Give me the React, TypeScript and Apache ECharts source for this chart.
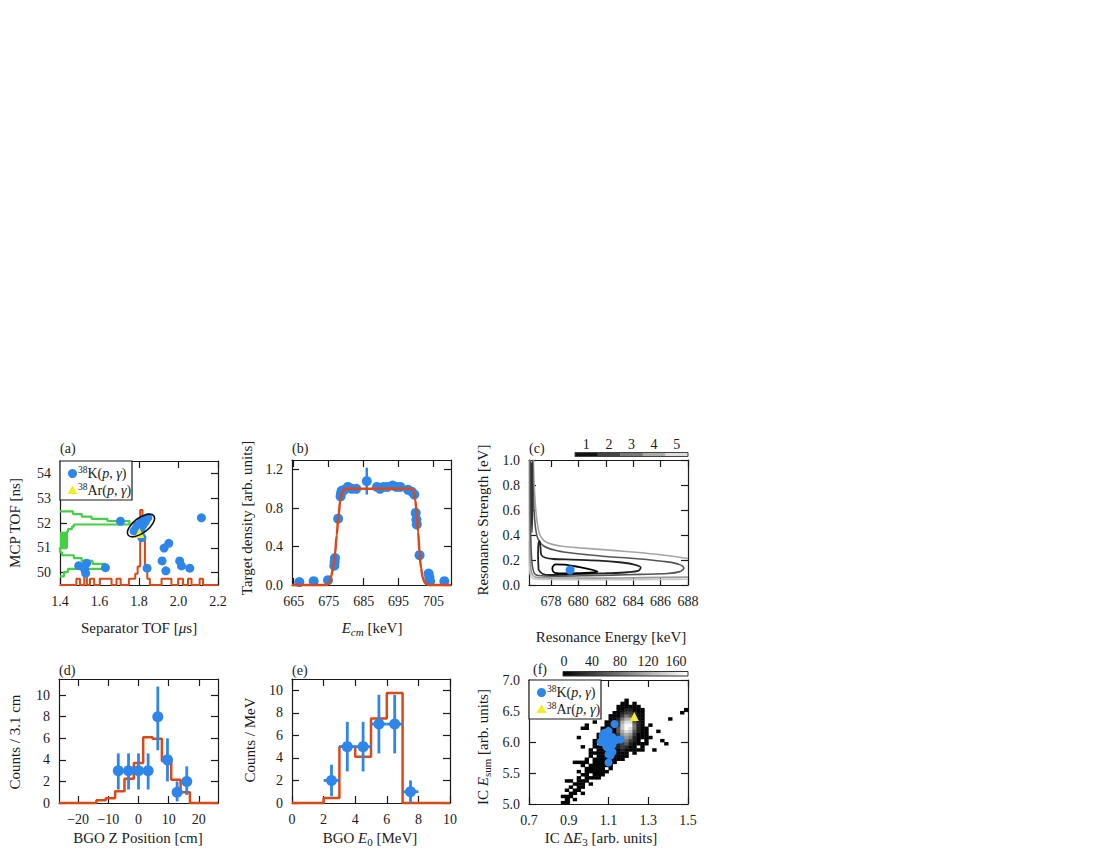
import React, { useEffect, useRef } from "react";
import * as echarts from "echarts";

const FONT = '"Liberation Serif", "Times New Roman", Times, serif';
const INK = "#1a1a1a";
const BLUE = "#2e86ea";
const RED = "#dd4814";
const GREEN = "#44d044";
const YELLOW = "#eeee22";
const TICK_FS = 14;
const TITLE_FS = 15;

// ---------------- panel (a) ----------------
const aSepTof = [1.706, 1.775, 1.785, 1.79, 1.8, 1.805, 1.812, 1.82, 1.825, 1.832, 1.838, 1.845, 1.81, 1.815, 2.116, 1.927, 1.951, 1.917, 1.936, 1.841, 2.006, 2.015, 2.057, 1.495, 1.535, 1.525, 1.53, 1.63];
const aMcpTof = [52.07, 51.68, 51.78, 51.88, 51.8, 51.95, 52.02, 51.92, 52.1, 52.05, 52.18, 52.22, 51.7, 51.41, 52.21, 50.99, 51.18, 50.47, 50.07, 50.18, 50.47, 50.27, 50.18, 50.28, 50.38, 50.12, 49.97, 50.2];
const aArPoint = [1.802, 51.6];
const aRedBase = 49.5;
// [start, end, top] of separator-TOF histogram bins
const aRedBins = [
  [1.483, 1.501, 49.75], [1.523, 1.536, 50.45], [1.552, 1.573, 49.75], [1.602, 1.661, 49.75],
  [1.686, 1.707, 49.75], [1.749, 1.781, 49.75], [1.781, 1.793, 49.95], [1.793, 1.806, 50.25],
  [1.806, 1.818, 52.52], [1.818, 1.83, 51.35], [1.83, 1.842, 50.2], [1.842, 1.855, 49.75],
  [1.914, 1.964, 49.75], [1.998, 2.023, 49.75], [2.048, 2.066, 49.75], [2.107, 2.124, 49.75],
];
const aGreenBase = 1.4;
// [low, high, extent] of MCP-TOF histogram bins
const aGreenBins = [
  [49.85, 50.02, 1.42], [50.02, 50.15, 1.44], [50.15, 50.35, 1.63], [50.35, 50.47, 1.565],
  [50.47, 50.58, 1.51], [50.58, 50.7, 1.47], [50.7, 50.82, 1.41], [50.82, 51.0, 1.4],
  [51.0, 51.65, 1.435], [51.65, 51.75, 1.44], [51.75, 51.85, 1.46], [51.85, 51.94, 1.47],
  [51.94, 52.08, 1.752], [52.08, 52.17, 1.64], [52.17, 52.26, 1.56], [52.26, 52.36, 1.51],
  [52.36, 52.47, 1.466],
];
const aGreenBlock = [51.0, 51.65, 1.435];
const aEllipseCenter = [1.81, 51.9];
const aXTicks = [1.4, 1.6, 1.8, 2.0, 2.2];
const aYTicks = [50, 51, 52, 53, 54];

// ---------------- panel (b) ----------------
const bE = [666.6, 670.7, 674.8, 676.6, 676.7, 676.8, 677.7, 678.4, 678.5, 678.7, 679.5, 680.5, 681.6, 682.9, 685.9, 688.8, 689.7, 690.7, 691.8, 693.3, 694.4, 695.5, 697.7, 698.8, 699.5, 699.9, 700.1, 700.2, 701.0, 703.6, 703.8, 704.0, 708.1];
const bDen = [0.03, 0.04, 0.05, 0.2, 0.24, 0.28, 0.69, 0.92, 0.95, 0.98, 0.99, 1.02, 1.0, 1.0, 1.08, 1.02, 1.0, 1.02, 1.02, 1.035, 1.02, 1.02, 0.99, 0.97, 0.94, 0.75, 0.68, 0.63, 0.31, 0.12, 0.08, 0.04, 0.04];
const bErr = [0.02, 0.02, 0.02, 0.03, 0.03, 0.03, 0.03, 0.02, 0.02, 0.02, 0.02, 0.02, 0.02, 0.02, 0.14, 0.02, 0.02, 0.02, 0.02, 0.02, 0.02, 0.02, 0.02, 0.02, 0.02, 0.03, 0.03, 0.03, 0.03, 0.02, 0.02, 0.02, 0.02];
const bFitE = [664.5, 674.5, 675.3, 675.8, 676.3, 676.8, 677.3, 677.8, 678.3, 678.9, 679.6, 698.6, 699.3, 699.8, 700.2, 700.6, 701.0, 701.4, 701.9, 702.4, 703.0, 703.8, 710];
const bFitD = [0, 0, 0.03, 0.1, 0.2, 0.32, 0.52, 0.72, 0.88, 0.97, 1.0, 1.0, 0.97, 0.88, 0.74, 0.55, 0.33, 0.18, 0.08, 0.03, 0.008, 0, 0];
const bXTicks = [665, 675, 685, 695, 705];
const bYTicks = [0, 0.4, 0.8, 1.2];

// ---------------- panel (c) ----------------
const cLevel1 = [[678.1, 0.14], [678.3, 0.165], [679.0, 0.163], [680.0, 0.145], [681.0, 0.122], [681.4, 0.108], [681.0, 0.1], [680.0, 0.095], [679.0, 0.092], [678.4, 0.094], [678.15, 0.11], [678.1, 0.14]];
const cLevel2 = [[677.1, 0.12], [677.06, 0.25], [677.1, 0.34], [677.18, 0.35], [677.24, 0.3], [677.3, 0.24], [677.6, 0.218], [678.2, 0.208], [679.5, 0.203], [681.5, 0.195], [683.0, 0.182], [684.0, 0.165], [684.55, 0.14], [684.4, 0.115], [683.6, 0.102], [682.0, 0.094], [680.5, 0.089], [679.0, 0.084], [678.0, 0.08], [677.4, 0.088], [677.1, 0.12]];
const cLevel2Wall = [[676.56, 0.98], [676.58, 0.6], [676.62, 0.42], [676.65, 0.6], [676.63, 0.98]];
const cLevel3 = [[676.5, 1.0], [676.5, 0.6], [676.55, 0.3], [676.65, 0.15], [676.85, 0.085], [677.3, 0.074], [678.5, 0.071], [680.5, 0.074], [682.5, 0.079], [684.5, 0.085], [686.5, 0.092], [687.4, 0.107], [687.7, 0.135], [687.4, 0.163], [686.5, 0.185], [684.3, 0.21], [682.0, 0.228], [680.6, 0.243], [679.2, 0.26], [678.3, 0.278], [677.5, 0.31], [677.05, 0.37], [676.85, 0.48], [676.72, 0.7], [676.66, 1.0]];
const cLevel4Low = [[676.44, 1.0], [676.45, 0.5], [676.49, 0.2], [676.6, 0.095], [676.9, 0.062], [678, 0.057], [681, 0.055], [685, 0.059], [688, 0.063]];
const cLevel4High = [[688, 0.212], [685.7, 0.246], [683, 0.273], [680.1, 0.297], [678.8, 0.31], [678.1, 0.325], [677.55, 0.35], [677.2, 0.4], [677.0, 0.5], [676.88, 0.62], [676.78, 0.8], [676.72, 1.0]];
const cLevel5Low = [[676.42, 0.35], [676.47, 0.1], [676.75, 0.05], [678, 0.044], [682, 0.042], [686, 0.044], [688, 0.046]];
const cBest = [679.4, 0.12];
const cXTicks = [678, 680, 682, 684, 686, 688];
const cYTicks = [0, 0.2, 0.4, 0.6, 0.8, 1.0];
const cBarLabels = ["1", "2", "3", "4", "5"];
const cBarColors = ["#111111", "#444444", "#777777", "#aaaaaa", "#dddddd"];

// ---------------- panel (d) ----------------
const dEdges = [-26.35, -23.25, -20.15, -17.05, -13.95, -10.85, -7.75, -4.65, -1.55, 1.55, 4.65, 7.75, 10.85, 13.95, 17.05, 20.15, 23.25, 26.35];
const dSim = [0, 0, 0, 0, 0.25, 0.45, 1.1, 2.25, 3.7, 6.1, 5.95, 3.9, 2.15, 1.0, 0, 0, 0];
const dZ = [-6.7, -3.3, 0, 3.2, 6.4, 9.6, 12.8, 16.0];
const dN = [3, 3, 3, 3, 8, 4, 1, 2];
const dLo = [1.25, 1.25, 1.25, 1.25, 4.9, 2.0, 0.15, 0.75];
const dHi = [4.6, 4.6, 4.6, 4.6, 10.8, 6.0, 2.0, 3.4];
const dXTicks = [-20, -10, 0, 10, 20];
const dYTicks = [0, 2, 4, 6, 8, 10];

// ---------------- panel (e) ----------------
const eEdges = [0, 1, 2, 3, 4, 5, 6, 7, 8, 9, 10];
const eSim = [0, 0, 0.45, 5.0, 4.1, 7.5, 9.75, 0, 0, 0];
const eE0 = [2.5, 3.5, 4.5, 5.5, 6.5, 7.5];
const eN = [2, 5, 5, 7, 7, 1];
const eLo = [0.6, 2.8, 2.8, 4.4, 4.4, 0];
const eHi = [3.4, 7.2, 7.2, 9.6, 9.6, 2.0];
const eHalfBin = 0.5;
const eXTicks = [0, 2, 4, 6, 8, 10];
const eYTicks = [0, 2, 4, 6, 8, 10];

// ---------------- panel (f) ----------------
const fBinX = 0.02;
const fBinY = 0.05;
const fOriginX = 0.7;
const fOriginY = 5.0;
// [row, first column, counts level per column ('.' = empty)]
const fRows: [number, number, string][] = [
  [0, 8, "11"], [1, 9, "1.1"], [2, 8, "111"], [3, 10, "11.1"], [4, 9, "1.11"],
  [5, 10, "1.11"], [6, 11, "111.1"], [7, 9, "11.111"], [8, 12, "1.1111"], [9, 13, "11.111"],
  [10, 12, "1.111111"], [11, 14, "11111.1"], [12, 13, "1.111111"], [13, 11, "1111.111111"],
  [14, 14, "1.11111111"], [15, 15, "1.11111111"], [16, 15, "1111111111.1"],
  [17, 15, "1.111111211111"], [18, 16, "11111123211.1"], [19, 16, "1.111123421111"],
  [20, 16, "111111245321.1"], [21, 17, "1111135652111"], [22, 17, "1111136763111"],
  [23, 18, "111147984211"], [24, 13, "11...111148A95211"], [25, 14, "1....11138AA521"],
  [26, 16, "1..1113799421"], [27, 20, "112577311"], [28, 20, "111354211"],
  [29, 21, "11233211"], [30, 22, "1122111"], [31, 22, "111111"], [32, 23, "11.1"], [33, 24, "1"],
];
const fStray = [[34, 19], [33, 20], [30, 21], [32, 23], [35, 27], [38, 29], [39, 30], [30, 25], [31, 17], [13, 18], [12, 21]];
const fLevel: Record<string, number> = { "1": 3, "2": 22, "3": 40, "4": 60, "5": 80, "6": 100, "7": 118, "8": 135, "9": 152, A: 172 };
const fMax = 175;
const fDeltaE = [1.13, 1.08, 1.09, 1.1, 1.12, 1.07, 1.09, 1.11, 1.14, 1.16, 1.08, 1.1, 1.12, 1.09, 1.11, 1.12, 1.1, 1.11, 1.1, 1.07, 1.1, 1.06];
const fEsum = [6.29, 6.15, 6.12, 6.1, 6.08, 6.05, 6.04, 6.02, 6.03, 6.04, 5.98, 5.97, 5.95, 5.92, 5.88, 5.84, 5.8, 5.78, 5.67, 6.1, 6.18, 6.0];
const fArPoint = [1.23, 6.41];
const fXTicks = [0.7, 0.9, 1.1, 1.3, 1.5];
const fYTicks = [5.0, 5.5, 6.0, 6.5, 7.0];
const fBarTicks = [0, 40, 80, 120, 160];

// ---------------- helpers ----------------
const f1 = (v: number) => v.toFixed(1);
const f0 = (v: number) => String(Math.round(v));
const fMinus = (v: number) => (v < 0 ? "\u2212" + Math.abs(v) : String(v));

function xBinsOutline(bins: number[][], base: number, xmin: number, xmax: number) {
  const pts: number[][] = [[xmin, base]];
  bins.forEach((b, i) => {
    const prev = bins[i - 1];
    if (!prev || Math.abs(prev[1] - b[0]) > 1e-9) pts.push([b[0], base]);
    pts.push([b[0], b[2]], [b[1], b[2]]);
    const next = bins[i + 1];
    if (!next || Math.abs(next[0] - b[1]) > 1e-9) pts.push([b[1], base]);
  });
  pts.push([xmax, base]);
  return pts;
}
function yBinsOutline(bins: number[][], base: number) {
  const pts: number[][] = [];
  bins.forEach((b, i) => {
    const prev = bins[i - 1];
    if (!prev || Math.abs(prev[1] - b[0]) > 1e-9) pts.push([base, b[0]]);
    pts.push([b[2], b[0]], [b[2], b[1]]);
    const next = bins[i + 1];
    if (!next || Math.abs(next[0] - b[1]) > 1e-9) pts.push([base, b[1]]);
  });
  return pts;
}
function stepLine(edges: number[], h: number[]) {
  const pts: number[][] = [];
  h.forEach((v, i) => pts.push([edges[i], v], [edges[i + 1], v]));
  return pts;
}

const GRIDS = [
  { left: 60, top: 461, width: 158, height: 124 },
  { left: 292, top: 460, width: 159, height: 125 },
  { left: 529, top: 460, width: 159, height: 125 },
  { left: 59, top: 679, width: 159, height: 124 },
  { left: 292, top: 679, width: 158, height: 124 },
  { left: 529, top: 680, width: 159, height: 124 },
];
const PANELS = [
  { x: [1.4, 2.2], xt: aXTicks, xf: f1, y: [49.5, 54.5], yt: aYTicks, yf: f0 },
  { x: [664.5, 710], xt: bXTicks, xf: f0, y: [0, 1.3], yt: bYTicks, yf: f1 },
  { x: [676.4, 688], xt: cXTicks, xf: f0, y: [0, 1.0], yt: cYTicks, yf: f1 },
  { x: [-26.35, 26.35], xt: dXTicks, xf: fMinus, y: [0, 11.5], yt: dYTicks, yf: f0 },
  { x: [0, 10], xt: eXTicks, xf: f0, y: [0, 11], yt: eYTicks, yf: f0 },
  { x: [0.7, 1.5], xt: fXTicks, xf: f1, y: [5.0, 7.0], yt: fYTicks, yf: f1 },
];

function mkAxis(gi: number, range: number[], ticks: number[], fmt: any, pos: string, labels: boolean) {
  return {
    type: "value",
    gridIndex: gi,
    position: pos,
    min: range[0],
    max: range[1],
    axisLine: { show: true, onZero: false, lineStyle: { color: INK, width: 1.2 } },
    axisTick: { show: true, inside: true, length: 7, customValues: ticks, lineStyle: { color: INK, width: 1.2 } },
    axisLabel: { show: labels, customValues: ticks, formatter: fmt, fontFamily: FONT, fontSize: TICK_FS, color: INK, margin: 9 },
    splitLine: { show: false },
  };
}

const errRender = (color: string, w: number) => (params: any, api: any) => {
  const x = api.value(0), lo = api.value(1), hi = api.value(2), xe = api.value(3), y = api.value(4);
  const p1 = api.coord([x, lo]);
  const p2 = api.coord([x, hi]);
  const children: any[] = [
    { type: "line", shape: { x1: p1[0], y1: p1[1], x2: p2[0], y2: p2[1] }, style: { stroke: color, lineWidth: w } },
  ];
  if (xe > 0) {
    const q1 = api.coord([x - xe, y]);
    const q2 = api.coord([x + xe, y]);
    children.push({ type: "line", shape: { x1: q1[0], y1: q1[1], x2: q2[0], y2: q2[1] }, style: { stroke: color, lineWidth: w } });
  }
  return { type: "group", children };
};

const RICH: any = {
  n: { fontFamily: FONT, fontSize: TITLE_FS, fill: INK, lineHeight: 19 },
  i: { fontFamily: FONT, fontSize: TITLE_FS, fill: INK, fontStyle: "italic", lineHeight: 19 },
  sub: { fontFamily: FONT, fontSize: 11, fill: INK, verticalAlign: "bottom" },
  subi: { fontFamily: FONT, fontSize: 11, fill: INK, fontStyle: "italic", verticalAlign: "bottom" },
  ln: { fontFamily: FONT, fontSize: 14, fill: INK, lineHeight: 17 },
  li: { fontFamily: FONT, fontSize: 14, fill: INK, fontStyle: "italic", lineHeight: 17 },
  sup: { fontFamily: FONT, fontSize: 9.5, fill: INK, verticalAlign: "top" },
};

function txt(x: number, y: number, text: string, opt: any = {}) {
  return {
    type: "text",
    x,
    y,
    z: 100,
    rotation: opt.rot ? Math.PI / 2 : 0,
    style: {
      text,
      rich: RICH,
      fill: INK,
      fontFamily: FONT,
      fontSize: opt.size || TITLE_FS,
      align: opt.align || "center",
      verticalAlign: "middle",
    },
  };
}

function legendBox(left: number, top: number) {
  return [
    { type: "rect", z: 99, shape: { x: left, y: top, width: 72, height: 39 }, style: { fill: "#fff", stroke: INK, lineWidth: 1.2 } },
    { type: "circle", z: 100, shape: { cx: left + 12.5, cy: top + 12.5, r: 4.5 }, style: { fill: BLUE } },
    { type: "polygon", z: 100, shape: { points: [[left + 12.5, top + 24.5], [left + 17.5, top + 33], [left + 7.5, top + 33]] }, style: { fill: YELLOW } },
    txt(left + 18, top + 12.5, "{sup|38}{ln|K(}{li|p}{ln|, }{li|\u03b3}{ln|)}", { align: "left" }),
    txt(left + 18, top + 29.5, "{sup|38}{ln|Ar(}{li|p}{ln|, }{li|\u03b3}{ln|)}", { align: "left" }),
  ];
}

function buildGraphics() {
  const g: any[] = [];
  // panel labels
  g.push(txt(60, 448, "(a)", { align: "left", size: 14 }));
  g.push(txt(292, 448, "(b)", { align: "left", size: 14 }));
  g.push(txt(529, 448, "(c)", { align: "left", size: 14 }));
  g.push(txt(59, 670, "(d)", { align: "left", size: 14 }));
  g.push(txt(292, 670, "(e)", { align: "left", size: 14 }));
  g.push(txt(533, 669, "(f)", { align: "left", size: 14 }));
  // axis titles
  g.push(txt(15, 523, "{n|MCP TOF [ns]}", { rot: true }));
  g.push(txt(139, 628, "{n|Separator TOF [}{i|\u03bc}{n|s]}"));
  g.push(txt(247, 518, "{n|Target density [arb. units]}", { rot: true }));
  g.push(txt(372, 628, "{i|E}{subi|cm}{n| [keV]}"));
  g.push(txt(483, 520, "{n|Resonance Strength [eV]}", { rot: true }));
  g.push(txt(611, 637, "{n|Resonance Energy [keV]}"));
  g.push(txt(15, 742, "{n|Counts / 3.1 cm}", { rot: true }));
  g.push(txt(138, 838, "{n|BGO Z Position [cm]}"));
  g.push(txt(250, 740, "{n|Counts / MeV}", { rot: true }));
  g.push(txt(370, 838, "{n|BGO }{i|E}{sub|0}{n| [MeV]}"));
  g.push(txt(483, 747, "{n|IC }{i|E}{sub|sum}{n| [arb. units]}", { rot: true }));
  g.push(txt(601, 838, "{n|IC \u0394}{i|E}{sub|3}{n| [arb. units]}"));
  // legends
  g.push(...legendBox(60, 461));
  g.push(...legendBox(529, 680));
  // colour bar (c): contour levels
  const cbX = 575, cbW = 113, cbY = 452.5, cbH = 4;
  cBarColors.forEach((c, k) => {
    g.push({ type: "rect", z: 100, shape: { x: cbX + (k * cbW) / 5, y: cbY, width: cbW / 5 + 0.3, height: cbH }, style: { fill: c } });
    g.push(txt(cbX + ((k + 0.5) * cbW) / 5, 444, cBarLabels[k], { size: 14 }));
  });
  g.push({ type: "rect", z: 101, shape: { x: cbX, y: cbY, width: cbW, height: cbH }, style: { fill: "none", stroke: "#444", lineWidth: 1 } });
  // colour bar (f): counts
  const fbX = 563, fbW = 125, fbY = 671.5, fbH = 4.5;
  g.push({
    type: "rect", z: 100, shape: { x: fbX, y: fbY, width: fbW, height: fbH },
    style: { fill: { type: "linear", x: 0, y: 0, x2: 1, y2: 0, colorStops: [{ offset: 0, color: "#000" }, { offset: 1, color: "#fff" }] }, stroke: "#333", lineWidth: 1 },
  });
  fBarTicks.forEach((v) => g.push(txt(fbX + 1 + (v / fMax) * (fbW - 2) * 0.995, 661, String(v), { size: 14 })));
  return g;
}

function buildOption() {
  const xAxis: any[] = [];
  const yAxis: any[] = [];
  PANELS.forEach((p, i) => {
    xAxis.push(mkAxis(i, p.x, p.xt, p.xf, "bottom", true));
    xAxis.push(mkAxis(i, p.x, p.xt, p.xf, "top", false));
    yAxis.push(mkAxis(i, p.y, p.yt, p.yf, "left", true));
    yAxis.push(mkAxis(i, p.y, p.yt, p.yf, "right", false));
  });
  const ax = (i: number) => ({ xAxisIndex: 2 * i, yAxisIndex: 2 * i });

  const fCells: number[][] = [];
  fRows.forEach(([r, c0, s]) => {
    for (let k = 0; k < s.length; k++) {
      const ch = s[k];
      if (ch !== ".") fCells.push([fOriginX + (c0 + k) * fBinX, fOriginY + r * fBinY, fLevel[ch]]);
    }
  });
  fStray.forEach(([c, r]) => fCells.push([fOriginX + c * fBinX, fOriginY + r * fBinY, fLevel["1"]]));

  const series: any[] = [
    // (a)
    {
      type: "line", ...ax(0), data: yBinsOutline(aGreenBins, aGreenBase), symbol: "none", clip: false, silent: true, z: 2,
      lineStyle: { color: GREEN, width: 2.2 },
      markArea: { silent: true, itemStyle: { color: GREEN }, data: [[{ coord: [aGreenBase, aGreenBlock[0]] }, { coord: [aGreenBlock[2], aGreenBlock[1]] }]] },
    },
    { type: "line", ...ax(0), data: xBinsOutline(aRedBins, aRedBase, 1.4, 2.2), symbol: "none", clip: false, silent: true, z: 3, lineStyle: { color: RED, width: 2 } },
    { type: "scatter", ...ax(0), data: aSepTof.map((v, i) => [v, aMcpTof[i]]), symbolSize: 9, itemStyle: { color: BLUE, opacity: 1 }, z: 4 },
    { type: "scatter", ...ax(0), data: [aArPoint], symbol: "triangle", symbolSize: 10, itemStyle: { color: YELLOW, opacity: 1 }, z: 5 },
    // (b)
    { type: "custom", ...ax(1), data: bE.map((e, i) => [e, bDen[i] - bErr[i], bDen[i] + bErr[i], 0, bDen[i]]), renderItem: errRender(BLUE, 2.5), z: 3 },
    { type: "scatter", ...ax(1), data: bE.map((e, i) => [e, bDen[i]]), symbolSize: 10, itemStyle: { color: BLUE, opacity: 1 }, z: 4 },
    { type: "line", ...ax(1), data: bFitE.map((e, i) => [e, bFitD[i]]), symbol: "none", smooth: 0.3, smoothMonotone: "x", clip: false, z: 5, lineStyle: { color: RED, width: 2.5 } },
    // (c)
    { type: "line", ...ax(2), data: cLevel5Low, symbol: "none", smooth: 0.3, z: 2, lineStyle: { color: "#c8c8c8", width: 1.6 } },
    { type: "line", ...ax(2), data: cLevel4Low, symbol: "none", smooth: 0.3, z: 3, lineStyle: { color: "#9a9a9a", width: 1.6 } },
    { type: "line", ...ax(2), data: cLevel4High, symbol: "none", smooth: 0.3, z: 3, lineStyle: { color: "#a5a5a5", width: 1.6 } },
    { type: "line", ...ax(2), data: cLevel3, symbol: "none", smooth: 0.3, z: 4, lineStyle: { color: "#555555", width: 1.6 } },
    { type: "line", ...ax(2), data: cLevel2Wall, symbol: "none", smooth: 0.3, z: 5, lineStyle: { color: "#333333", width: 1.4 } },
    { type: "line", ...ax(2), data: cLevel2, symbol: "none", smooth: 0.3, z: 5, lineStyle: { color: "#222222", width: 1.8 } },
    { type: "line", ...ax(2), data: cLevel1, symbol: "none", smooth: 0.3, z: 6, lineStyle: { color: "#000000", width: 1.8 } },
    { type: "scatter", ...ax(2), data: [cBest], symbolSize: 9, itemStyle: { color: BLUE, opacity: 1 }, z: 7 },
    // (d)
    { type: "line", ...ax(3), data: stepLine(dEdges, dSim), symbol: "none", clip: false, z: 2, lineStyle: { color: RED, width: 2.5 } },
    { type: "custom", ...ax(3), data: dZ.map((z, i) => [z, dLo[i], dHi[i], 0, dN[i]]), renderItem: errRender(BLUE, 2.8), z: 3 },
    { type: "scatter", ...ax(3), data: dZ.map((z, i) => [z, dN[i]]), symbolSize: 11, itemStyle: { color: BLUE, opacity: 1 }, z: 4 },
    // (e)
    { type: "line", ...ax(4), data: stepLine(eEdges, eSim), symbol: "none", clip: false, z: 2, lineStyle: { color: RED, width: 2.5 } },
    { type: "custom", ...ax(4), data: eE0.map((e, i) => [e, eLo[i], eHi[i], eHalfBin, eN[i]]), renderItem: errRender(BLUE, 2.8), z: 3 },
    { type: "scatter", ...ax(4), data: eE0.map((e, i) => [e, eN[i]]), symbolSize: 11, itemStyle: { color: BLUE, opacity: 1 }, z: 4 },
    // (f)
    {
      type: "custom", ...ax(5), data: fCells, z: 2, silent: true,
      renderItem: (params: any, api: any) => {
        const x = api.value(0), y = api.value(1), v = api.value(2);
        const a = api.coord([x, y + fBinY]);
        const b = api.coord([x + fBinX, y]);
        const gv = Math.round((255 * Math.min(v, fMax)) / fMax);
        return { type: "rect", shape: { x: a[0], y: a[1], width: b[0] - a[0] + 0.4, height: b[1] - a[1] + 0.4 }, style: { fill: `rgb(${gv},${gv},${gv})` } };
      },
    },
    { type: "scatter", ...ax(5), data: fDeltaE.map((v, i) => [v, fEsum[i]]), symbolSize: 8, itemStyle: { color: BLUE, opacity: 1 }, z: 4 },
    { type: "scatter", ...ax(5), data: [fArPoint], symbol: "triangle", symbolSize: 9, itemStyle: { color: YELLOW, opacity: 1 }, z: 5 },
  ];

  return {
    animation: false,
    backgroundColor: "#ffffff",
    textStyle: { fontFamily: FONT },
    grid: GRIDS.map((g) => ({ ...g, containLabel: false })),
    xAxis,
    yAxis,
    series,
    graphic: buildGraphics(),
  };
}

export default function App() {
  const ref = useRef<HTMLDivElement>(null);
  useEffect(() => {
    document.body.style.margin = "0";
    const chart = echarts.init(ref.current as HTMLDivElement, null, { renderer: "svg", width: 1100, height: 850 });
    const option: any = buildOption();
    chart.setOption(option);
    const c = chart.convertToPixel({ gridIndex: 0 }, aEllipseCenter) as number[];
    option.graphic = [
      ...buildGraphics(),
      {
        type: "ellipse",
        z: 101,
        x: c[0],
        y: c[1],
        rotation: (37 * Math.PI) / 180,
        shape: { cx: 0, cy: 0, rx: 16, ry: 7.5 },
        style: { fill: "none", stroke: "#111", lineWidth: 1.6 },
      },
    ];
    chart.setOption(option, true);
    return () => chart.dispose();
  }, []);
  return <div ref={ref} style={{ width: 1100, height: 850, background: "#fff" }} />;
}
